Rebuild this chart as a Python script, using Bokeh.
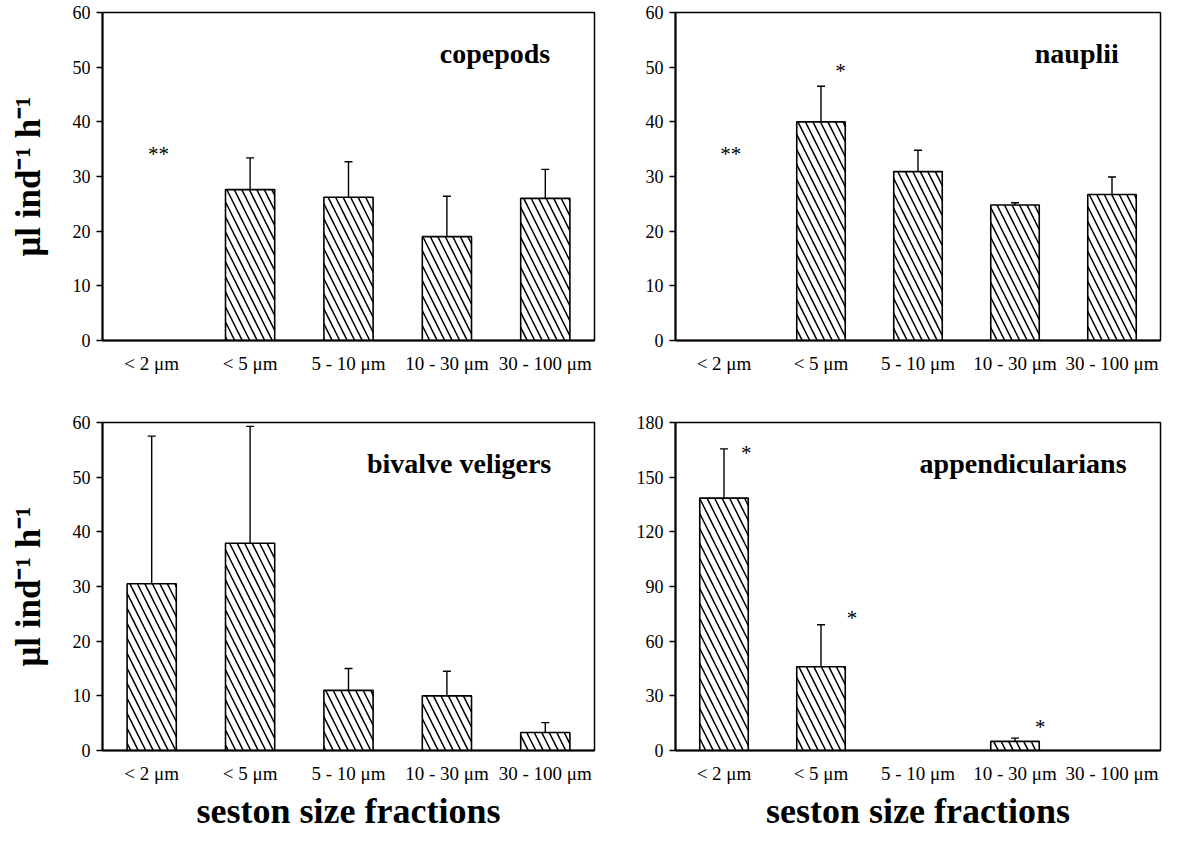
from bokeh.plotting import figure
from bokeh.layouts import gridplot
from bokeh.models import ColumnDataSource, Whisker, TeeHead, FixedTicker, Range1d
from bokeh.embed import file_html
from bokeh.resources import INLINE
from bokeh.core.properties import value

# ---------------- data ----------------
categories = ["< 2 \u03bcm", "< 5 \u03bcm", "5 - 10 \u03bcm", "10 - 30 \u03bcm", "30 - 100 \u03bcm"]

copepods_mean = [None, 27.6, 26.2, 19.0, 26.0]
copepods_err = [None, 5.8, 6.5, 7.4, 5.3]
copepods_star_x = [0.07]
copepods_star_y = [35.0]
copepods_star_txt = ["**"]

nauplii_mean = [None, 40.0, 30.9, 24.8, 26.7]
nauplii_err = [None, 6.5, 3.9, 0.4, 3.2]
nauplii_star_x = [0.07, 1.2]
nauplii_star_y = [35.0, 50.2]
nauplii_star_txt = ["**", "*"]

veligers_mean = [30.5, 37.9, 11.0, 10.0, 3.3]
veligers_err = [27.0, 21.4, 4.0, 4.5, 1.8]
veligers_star_x = []
veligers_star_y = []
veligers_star_txt = []

append_mean = [138.5, 46.0, None, 5.0, None]
append_err = [27.0, 23.0, None, 1.8, None]
append_star_x = [0.23, 1.32, 3.26]
append_star_y = [166.0, 75.7, 15.6]
append_star_txt = ["*", "*", "*"]

YLABEL = "\u03bcl ind\u207b\u00b9 h\u207b\u00b9"
XLABEL = "seston size fractions"

SERIF = "Liberation Serif"


def make_panel(title, title_x, means, errs, ymax, ystep, sx, sy, st,
               lb, rb, tb, bb, fw, fh, xlabel=None, ylabel=None):
    p = figure(frame_width=fw, frame_height=fh,
               x_range=Range1d(-0.5, 4.5), y_range=Range1d(0, ymax),
               output_backend="svg", toolbar_location=None,
               min_border_left=lb, min_border_right=rb,
               min_border_top=tb, min_border_bottom=bb)
    xs, tops, up, lo = [], [], [], []
    for i, (m, e) in enumerate(zip(means, errs)):
        if m is None:
            continue
        xs.append(i)
        tops.append(m)
        up.append(m + e)
        lo.append(m - e)
    src = ColumnDataSource(dict(x=xs, top=tops, upper=up, lower=lo))
    p.vbar(x="x", top="top", width=0.5, source=src, fill_color="white",
           line_color="black", line_width=1.6,
           hatch_pattern="left_diagonal_line", hatch_color="black",
           hatch_scale=15, hatch_weight=1.5)
    w = Whisker(source=src, base="x", upper="upper", lower="lower",
                line_color="black", line_width=1.4,
                upper_head=TeeHead(size=8, line_width=1.4, line_color="black"),
                lower_head=TeeHead(size=8, line_width=1.4, line_color="black"))
    p.add_layout(w)

    if sx:
        p.text(x=sx, y=sy, text=st, text_align="center", text_baseline="middle",
               text_font=value(SERIF), text_font_size="21px", text_color="black",
               y_offset=5)

    p.text(x=[title_x], y=[ymax * 0.875], text=[title], text_align="right",
           text_baseline="alphabetic", text_font=value(SERIF),
           text_font_style="bold", text_font_size="28px", text_color="black")

    p.xgrid.visible = False
    p.ygrid.visible = False
    p.outline_line_color = "black"
    p.outline_line_width = 1.5
    p.outline_line_alpha = 1.0
    p.background_fill_color = "white"
    p.border_fill_color = "white"

    p.xaxis.ticker = FixedTicker(ticks=[0, 1, 2, 3, 4])
    p.xaxis.major_label_overrides = {i: c for i, c in enumerate(categories)}
    p.yaxis.ticker = FixedTicker(ticks=list(range(0, ymax + 1, ystep)))

    for ax in (p.xaxis, p.yaxis):
        ax.axis_line_width = 2
        ax.axis_line_color = "black"
        ax.major_tick_line_width = 1.5
        ax.major_tick_line_color = "black"
        ax.minor_tick_out = 0
        ax.minor_tick_in = 0
        ax.major_label_text_font = SERIF
        ax.major_label_text_color = "black"
    p.xaxis.major_label_text_font_size = "19px"
    p.yaxis.major_label_text_font_size = "18px"
    p.xaxis.major_tick_out = 0
    p.xaxis.major_tick_in = 0
    p.xaxis.major_label_standoff = 12
    p.yaxis.major_tick_out = 6
    p.yaxis.major_tick_in = 0
    p.yaxis.major_label_standoff = 6

    if ylabel:
        p.yaxis.axis_label = ylabel
        p.yaxis.axis_label_text_font = SERIF
        p.yaxis.axis_label_text_font_style = "bold"
        p.yaxis.axis_label_text_font_size = "35px"
        p.yaxis.axis_label_text_color = "black"
        p.yaxis.axis_label_standoff = 22
    if xlabel:
        p.xaxis.axis_label = xlabel
        p.xaxis.axis_label_text_font = SERIF
        p.xaxis.axis_label_text_font_style = "bold"
        p.xaxis.axis_label_text_font_size = "36px"
        p.xaxis.axis_label_text_color = "black"
        p.xaxis.axis_label_standoff = 4
    return p


p1 = make_panel("copepods", 4.05, copepods_mean, copepods_err, 60, 10,
                copepods_star_x, copepods_star_y, copepods_star_txt,
                lb=102, rb=26, tb=12, bb=68, fw=492, fh=328, ylabel=YLABEL)
p2 = make_panel("nauplii", 4.07, nauplii_mean, nauplii_err, 60, 10,
                nauplii_star_x, nauplii_star_y, nauplii_star_txt,
                lb=55, rb=12, tb=12, bb=68, fw=485, fh=328)
p3 = make_panel("bivalve veligers", 4.06, veligers_mean, veligers_err, 60, 10,
                veligers_star_x, veligers_star_y, veligers_star_txt,
                lb=102, rb=26, tb=14, bb=80, fw=492, fh=328,
                ylabel=YLABEL, xlabel=XLABEL)
p4 = make_panel("appendicularians", 4.15, append_mean, append_err, 180, 30,
                append_star_x, append_star_y, append_star_txt,
                lb=55, rb=12, tb=14, bb=80, fw=485, fh=328, xlabel=XLABEL)

grid = gridplot([[p1, p2], [p3, p4]], toolbar_location=None)

open("out.html", "w").write(file_html(grid, INLINE))
